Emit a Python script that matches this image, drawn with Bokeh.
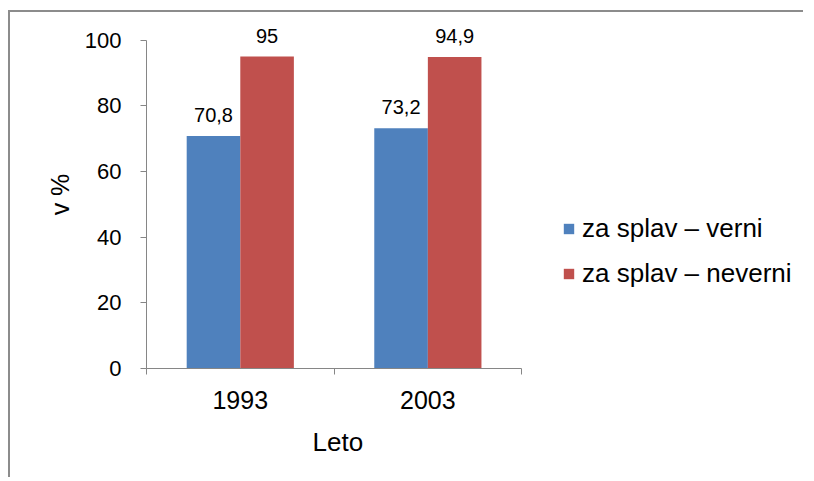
from bokeh.plotting import figure
from bokeh.models import ColumnDataSource, FixedTicker, LabelSet, Legend, LegendItem, Range1d, Title
from bokeh.core.properties import value
from bokeh.embed import file_html
from bokeh.resources import INLINE
import numpy as np

years = ["1993", "2003"]
verni = [70.8, 73.2]
neverni = [95.0, 94.9]
series_names = ["za splav \u2013 verni", "za splav \u2013 neverni"]
y_ticks = [0, 20, 40, 60, 80, 100]

BLUE = "#4F81BD"
RED = "#C0504D"
AXIS = "#868686"
FONT = "Liberation Sans"
BW = 1.0 / 3.5

idx = np.arange(len(years)) + 0.5

src = ColumnDataSource(dict(
    xb=idx - BW / 2, xr=idx + BW / 2,
    verni=verni, neverni=neverni,
    lb=[f"{v:g}".replace(".", ",") for v in verni],
    lr=[f"{v:g}".replace(".", ",") for v in neverni],
))

# frame extends right so the legend (drawn inside the frame) is not clipped;
# the x axis line is bounded to the category span
p = figure(width=795, height=467, output_backend="svg", toolbar_location=None,
           x_range=Range1d(0, 3.46), y_range=Range1d(0, 106),
           min_border_left=136, min_border_top=8, min_border_right=10, min_border_bottom=111)
p.margin = (10, 0, 0, 8)
p.styles = {"border-left": "2px solid #8c8c8c", "border-top": "2px solid #8c8c8c"}
p.outline_line_color = None
p.grid.visible = False
p.background_fill_color = "white"
p.border_fill_color = "white"

rb = p.vbar(x="xb", top="verni", width=BW, source=src, fill_color=BLUE, line_color=None)
rr = p.vbar(x="xr", top="neverni", width=BW, source=src, fill_color=RED, line_color=None)

for xcol, ycol, tcol in [("xb", "verni", "lb"), ("xr", "neverni", "lr")]:
    p.add_layout(LabelSet(x=xcol, y=ycol, text=tcol, source=src, y_offset=21,
                          text_align="center", text_baseline="middle",
                          text_font=value(FONT), text_font_size=value("20px"), text_color="black"))

xa = p.xaxis[0]
xa.bounds = (0, len(years))
xa.ticker = FixedTicker(ticks=list(idx), minor_ticks=list(range(len(years) + 1)))
xa.major_label_overrides = {float(i): y for i, y in zip(idx, years)}
xa.major_tick_out = 0
xa.major_tick_in = 0
xa.minor_tick_out = 6
xa.minor_tick_in = 0
xa.minor_tick_line_color = AXIS
xa.axis_line_color = AXIS
xa.major_label_text_font = FONT
xa.major_label_text_font_size = "25px"
xa.major_label_text_color = "black"
xa.major_label_standoff = 16

xtitle = Title(text="Leto", align="left", offset=166, standoff=26,
               text_font=FONT, text_font_size="26px", text_font_style="normal",
               text_color="black")
p.add_layout(xtitle, "below")

ya = p.yaxis[0]
ya.bounds = (0, 100)
ya.ticker = FixedTicker(ticks=y_ticks, minor_ticks=[])
ya.major_tick_out = 6
ya.major_tick_in = 0
ya.major_tick_line_color = AXIS
ya.axis_line_color = AXIS
ya.major_label_text_font = FONT
ya.major_label_text_font_size = "22px"
ya.major_label_text_color = "black"
ya.major_label_standoff = 19
ya.axis_label = "v %"
ya.axis_label_text_font = FONT
ya.axis_label_text_font_size = "25px"
ya.axis_label_text_font_style = "normal"
ya.axis_label_text_color = "black"
ya.axis_label_standoff = 8

legend = Legend(items=[LegendItem(label=series_names[0], renderers=[rb]),
                       LegendItem(label=series_names[1], renderers=[rr])],
                location=(416, 79), padding=0, margin=0, spacing=14,
                glyph_width=13, glyph_height=13, label_height=30, label_standoff=7,
                label_text_font=FONT, label_text_font_size="26px", label_text_color="black",
                border_line_color=None, background_fill_alpha=0)
p.add_layout(legend, "center")

open("out.html", "w").write(file_html(p, INLINE))
